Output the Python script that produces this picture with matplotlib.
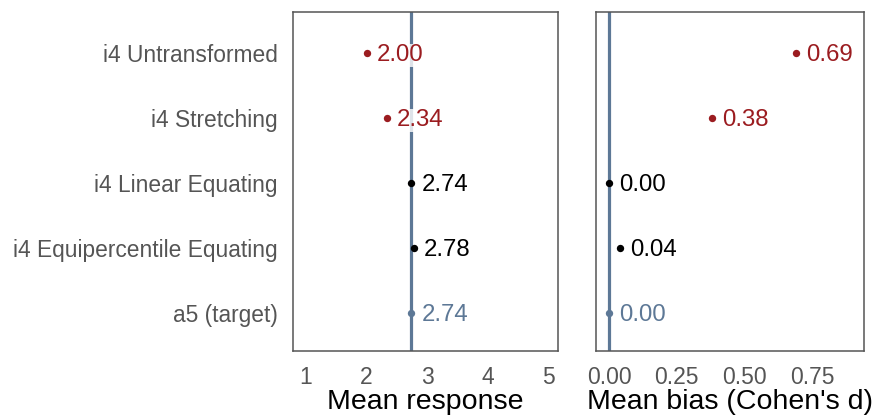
import numpy as np
import matplotlib
matplotlib.use("Agg")
import matplotlib.pyplot as plt

plt.rcParams['font.family'] = ['Liberation Sans', 'DejaVu Sans']

# dades
metodes = ["a5 (target)", "i4 Equipercentile Equating", "i4 Linear Equating",
           "i4 Stretching", "i4 Untransformed"]
mitjana = [2.74, 2.78, 2.74, 2.34, 2.00]
biaix = [0.00, 0.04, 0.00, 0.38, 0.69]
objectiu_mitjana = 2.74
objectiu_biaix = 0.00

vermell = '#9b1c20'
blau = '#5d7896'
colors = [blau, 'black', 'black', vermell, vermell]

fig = plt.figure(figsize=(8.77, 4.18), dpi=100)
ax1 = fig.add_axes([293/877, 1-351/418, 265/877, 339/418])
ax2 = fig.add_axes([596/877, 1-351/418, 268/877, 339/418])

y = np.arange(1, len(metodes)+1)

def panell(ax, valors, objectiu, fmt, dx, xlim, ticks, ticklabels, titol):
    ax.axvline(objectiu, color=blau, lw=2.3, zorder=1)
    for yi, v, c in zip(y, valors, colors):
        ax.scatter(v, yi, s=28, color=c, zorder=3, linewidths=0)
        ax.text(v + dx, yi, fmt.format(v), color=c, fontsize=17.3, va='center_baseline',
                ha='left', zorder=2,
                bbox=dict(facecolor='white', alpha=0.8, edgecolor='none', pad=0.3))
    ax.set_xlim(*xlim)
    ax.set_ylim(0.415, 5.63)
    ax.set_xticks(ticks)
    ax.set_xticklabels(ticklabels)
    ax.set_xlabel(titol, fontsize=20.5, color='black', labelpad=0)
    ax.tick_params(length=0, labelsize=16.5, colors='#555555', pad=11)
    for s in ax.spines.values():
        s.set_color('#555555')
        s.set_linewidth(1.1)

panell(ax1, mitjana, objectiu_mitjana, "{:.2f}", 0.165, (0.785, 5.165),
       [1, 2, 3, 4, 5], ['1', '2', '3', '4', '5'], 'Mean response')
panell(ax2, biaix, objectiu_biaix, "{:.2f}", 0.037, (-0.048, 0.942),
       [0, 0.25, 0.5, 0.75], ['0.00', '0.25', '0.50', '0.75'], "Mean bias (Cohen's d)")

ax1.set_yticks(y)
ax1.set_yticklabels(metodes, fontsize=16.4, color='#555555', va='center_baseline')
ax1.tick_params(axis='y', pad=11)
ax2.set_yticks([])

fig.savefig("out.png", dpi=100)
